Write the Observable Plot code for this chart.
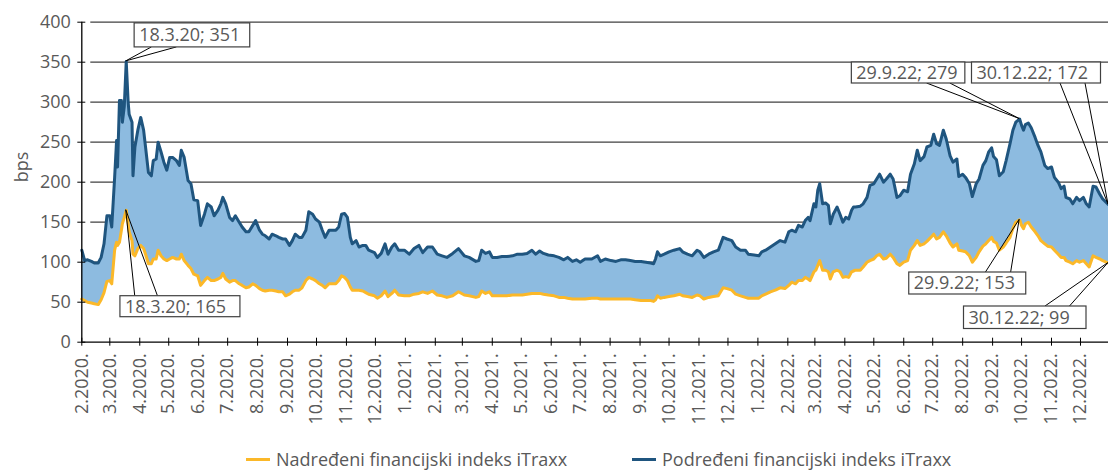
<!DOCTYPE html>
<html>
<head>
<meta charset="utf-8">
<script src="https://cdn.jsdelivr.net/npm/d3@7"></script>
<script src="https://cdn.jsdelivr.net/npm/@observablehq/plot@0.6"></script>
<style>
  html, body { margin: 0; padding: 0; background: #fff; }
  body { width: 1108px; height: 471px; position: relative; overflow: hidden; font-family: "Open Sans", sans-serif; }
  #legend { position: absolute; left: 0; top: 448px; width: 1108px; height: 22px; font-size: 18px; color: #595959; }
  .item { position: absolute; top: 0; display: flex; align-items: center; white-space: nowrap; line-height: 22px; height: 22px; }
  .sw { width: 24px; height: 3px; margin-right: 6px; }
</style>
</head>
<body>
<div id="chart"></div>
<div id="legend"></div>
<script>
// ---- data ----
const dates = ["2020-02-01","2020-02-04","2020-02-07","2020-02-11","2020-02-14","2020-02-18","2020-02-21","2020-02-24","2020-02-27","2020-03-01","2020-03-03","2020-03-06","2020-03-08","2020-03-09","2020-03-11","2020-03-13","2020-03-14","2020-03-16","2020-03-18","2020-03-20","2020-03-21","2020-03-24","2020-03-25","2020-03-27","2020-03-30","2020-04-02","2020-04-05","2020-04-07","2020-04-10","2020-04-13","2020-04-15","2020-04-18","2020-04-20","2020-04-23","2020-04-26","2020-04-29","2020-05-02","2020-05-05","2020-05-09","2020-05-12","2020-05-14","2020-05-17","2020-05-21","2020-05-24","2020-05-27","2020-05-31","2020-06-03","2020-06-07","2020-06-10","2020-06-14","2020-06-17","2020-06-21","2020-06-24","2020-06-26","2020-06-29","2020-07-03","2020-07-06","2020-07-09","2020-07-13","2020-07-16","2020-07-20","2020-07-23","2020-07-27","2020-07-30","2020-08-03","2020-08-06","2020-08-09","2020-08-13","2020-08-16","2020-08-20","2020-08-23","2020-08-27","2020-08-30","2020-09-03","2020-09-06","2020-09-09","2020-09-13","2020-09-16","2020-09-20","2020-09-23","2020-09-27","2020-09-30","2020-10-04","2020-10-07","2020-10-10","2020-10-14","2020-10-17","2020-10-21","2020-10-24","2020-10-27","2020-10-30","2020-11-02","2020-11-05","2020-11-07","2020-11-11","2020-11-14","2020-11-18","2020-11-21","2020-11-24","2020-11-30","2020-12-03","2020-12-07","2020-12-11","2020-12-14","2020-12-18","2020-12-21","2020-12-25","2020-12-31","2021-01-05","2021-01-10","2021-01-15","2021-01-19","2021-01-24","2021-01-29","2021-02-03","2021-02-08","2021-02-13","2021-02-19","2021-02-25","2021-03-03","2021-03-08","2021-03-15","2021-03-18","2021-03-21","2021-03-25","2021-03-29","2021-04-01","2021-04-06","2021-04-11","2021-04-16","2021-04-22","2021-04-27","2021-05-02","2021-05-07","2021-05-12","2021-05-16","2021-05-20","2021-05-24","2021-05-29","2021-06-04","2021-06-09","2021-06-14","2021-06-18","2021-06-23","2021-06-27","2021-07-01","2021-07-06","2021-07-13","2021-07-19","2021-07-22","2021-07-27","2021-08-02","2021-08-07","2021-08-12","2021-08-17","2021-08-22","2021-08-27","2021-09-02","2021-09-07","2021-09-12","2021-09-15","2021-09-17","2021-09-19","2021-09-22","2021-09-26","2021-10-01","2021-10-06","2021-10-12","2021-10-15","2021-10-20","2021-10-25","2021-10-30","2021-11-02","2021-11-06","2021-11-11","2021-11-16","2021-11-21","2021-11-26","2021-11-30","2021-12-05","2021-12-09","2021-12-14","2021-12-19","2021-12-22","2021-12-28","2022-01-02","2022-01-05","2022-01-09","2022-01-14","2022-01-19","2022-01-24","2022-01-29","2022-02-02","2022-02-05","2022-02-09","2022-02-12","2022-02-16","2022-02-19","2022-02-22","2022-02-24","2022-02-28","2022-03-02","2022-03-04","2022-03-06","2022-03-09","2022-03-12","2022-03-15","2022-03-17","2022-03-20","2022-03-24","2022-03-27","2022-03-30","2022-04-02","2022-04-05","2022-04-08","2022-04-10","2022-04-12","2022-04-17","2022-04-20","2022-04-24","2022-04-27","2022-05-01","2022-05-04","2022-05-07","2022-05-11","2022-05-14","2022-05-18","2022-05-21","2022-05-25","2022-05-28","2022-06-01","2022-06-05","2022-06-08","2022-06-12","2022-06-15","2022-06-18","2022-06-22","2022-06-25","2022-06-29","2022-07-02","2022-07-05","2022-07-08","2022-07-12","2022-07-15","2022-07-19","2022-07-22","2022-07-26","2022-07-28","2022-08-01","2022-08-04","2022-08-08","2022-08-11","2022-08-15","2022-08-18","2022-08-22","2022-08-25","2022-08-28","2022-08-31","2022-09-02","2022-09-05","2022-09-08","2022-09-12","2022-09-15","2022-09-19","2022-09-22","2022-09-25","2022-09-29","2022-10-01","2022-10-03","2022-10-05","2022-10-08","2022-10-11","2022-10-15","2022-10-18","2022-10-21","2022-10-25","2022-10-28","2022-11-01","2022-11-04","2022-11-08","2022-11-11","2022-11-14","2022-11-16","2022-11-20","2022-11-23","2022-11-27","2022-11-30","2022-12-04","2022-12-07","2022-12-10","2022-12-14","2022-12-17","2022-12-21","2022-12-24","2022-12-30"];

// Podređeni financijski indeks iTraxx (subordinated, bps)
const subordinated = [115,102,103,101,99,99,106,123,158,158,144,206,252,219,302,302,275,295,351,300,285,275,208,244,265,281,265,244,212,208,227,229,250,238,225,215,231,231,227,221,240,231,202,198,178,177,146,160,173,169,158,165,173,181,173,156,152,158,150,144,138,138,146,152,140,135,133,129,135,133,131,129,129,121,127,135,131,131,140,163,160,154,150,140,131,140,140,140,144,160,161,156,131,123,127,119,121,121,115,112,106,111,123,110,119,123,115,115,110,117,121,112,119,119,110,108,106,111,117,108,106,101,102,115,111,113,106,106,107,107,108,110,110,111,115,110,114,111,109,108,106,103,106,101,103,100,104,104,108,101,104,102,101,103,103,102,101,101,100,99,98,104,113,108,110,113,115,117,113,110,108,115,113,106,110,113,115,131,129,127,119,115,115,110,109,108,113,115,119,123,127,125,138,140,138,146,144,152,156,152,173,169,190,198,173,174,171,148,160,169,160,150,156,154,165,169,169,170,173,181,196,198,204,210,200,204,210,204,181,183,190,188,210,223,240,227,232,244,246,260,248,246,265,254,233,225,229,207,210,206,198,182,198,204,221,227,238,243,232,228,208,213,227,248,265,275,279,271,265,272,274,268,256,246,238,221,217,219,206,200,192,195,181,179,173,181,177,181,173,169,195,194,185,179,172];

// Nadređeni financijski indeks iTraxx (senior, bps)
const senior = [54,52,50,49,48,47,53,62,76,77,73,115,125,121,125,140,148,156,165,148,138,127,110,108,117,121,117,110,98,98,104,104,115,108,104,102,104,106,104,104,110,102,96,92,85,83,71,77,81,77,77,79,81,86,79,75,77,77,73,71,68,69,73,71,67,65,64,65,65,64,63,63,58,60,63,65,65,68,77,81,79,77,73,71,68,73,73,73,77,83,81,77,69,65,65,65,64,62,60,58,55,58,64,57,61,65,59,58,58,60,61,63,61,64,59,58,56,58,63,59,58,56,57,64,61,63,58,58,58,58,59,59,59,60,61,61,61,60,59,58,56,56,55,54,54,54,54,55,55,54,54,54,54,54,54,54,53,52,52,52,51,53,58,55,56,57,58,60,58,57,56,59,58,54,56,57,58,68,67,65,60,58,56,55,55,55,58,60,63,65,68,67,71,75,73,77,77,81,79,77,88,90,96,102,90,90,88,79,88,90,88,81,82,81,88,89,90,90,94,100,102,104,108,110,104,105,110,106,98,96,100,102,115,121,127,121,123,126,131,135,129,131,138,133,124,119,123,115,114,113,108,100,106,113,120,123,127,131,126,124,115,119,124,131,142,150,153,146,142,148,150,144,138,133,127,123,120,119,115,110,106,106,102,100,98,102,100,102,98,94,108,106,104,102,99];

const yTicks = [0, 50, 100, 150, 200, 250, 300, 350, 400];
const monthTicks = ["2020-02-01","2020-03-01","2020-04-01","2020-05-01","2020-06-01","2020-07-01","2020-08-01","2020-09-01","2020-10-01","2020-11-01","2020-12-01","2021-01-01","2021-02-01","2021-03-01","2021-04-01","2021-05-01","2021-06-01","2021-07-01","2021-08-01","2021-09-01","2021-10-01","2021-11-01","2021-12-01","2022-01-01","2022-02-01","2022-03-01","2022-04-01","2022-05-01","2022-06-01","2022-07-01","2022-08-01","2022-09-01","2022-10-01","2022-11-01","2022-12-01"];

const seriesNames = ["Nadređeni financijski indeks iTraxx", "Podređeni financijski indeks iTraxx"];
const yLabel = "bps";

// annotated points
const calloutDates  = ["2020-03-18", "2020-03-18", "2022-09-29", "2022-12-30", "2022-09-29", "2022-12-30"];
const calloutValues = [351, 165, 279, 172, 153, 99];
const calloutLabels = ["18.3.20; 351", "18.3.20; 165", "29.9.22; 279", "30.12.22; 172", "29.9.22; 153", "30.12.22; 99"];

// ---- layout / style (not data) ----
const COL_SUB = "#1f557f", COL_SEN = "#fbb829", COL_FILL = "#8dbbe0", COL_TEXT = "#595959", COL_GRID = "#404040";
// box offsets relative to the annotated point (px): left, top, width, height, leader x-offsets
const calloutLayout = [
  {l: 8.4,    t: -38,    w: 115.6, h: 24,   k: [25.7, 50.7]},
  {l: -5.8,   t: 86,     w: 120,   h: 21,   k: [9, 31.7]},
  {l: -167.8, t: -56.5,  w: 113.5, h: 21,   k: [-92.6, -69.3]},
  {l: -136.5, t: -142.1, w: 129,   h: 21,   k: [-48, -23]},
  {l: -110.4, t: 52.7,   w: 117,   h: 22,   k: [-33.7, -8.5]},
  {l: -144.5, t: 43.5,   w: 122.5, h: 22.5, k: [-63, -38.5]}
];

const parse = d3.utcParse("%Y-%m-%d");
const rows = dates.map((d, i) => ({date: parse(d), sen: senior[i], sub: subordinated[i]}));
const ticksX = monthTicks.map(parse);
const xDomain = [parse(dates[0]), parse(dates[dates.length - 1])];
const fmt = d => `${d.getUTCMonth() + 1}.${d.getUTCFullYear()}.`;

const chart = Plot.plot({
  width: 1108,
  height: 440,
  marginLeft: 81.3,
  marginRight: 0,
  marginTop: 21.7,
  marginBottom: 98.3,
  style: {fontFamily: "'Open Sans', sans-serif", fontSize: "18px", color: COL_TEXT, background: "white", overflow: "visible"},
  x: {type: "utc", domain: xDomain, label: null},
  y: {domain: [0, 400], label: null},
  marks: [
    Plot.ruleY(yTicks.filter(t => t > 0), {stroke: COL_GRID, strokeWidth: 1.3, insetLeft: 9}),
    Plot.areaY(rows, {x: "date", y1: 0, y2: "sen", fill: "white"}),
    Plot.areaY(rows, {x: "date", y1: "sen", y2: "sub", fill: COL_FILL}),
    Plot.lineY(rows, {x: "date", y: "sen", stroke: COL_SEN, strokeWidth: 3, strokeLinejoin: "round"}),
    Plot.lineY(rows, {x: "date", y: "sub", stroke: COL_SUB, strokeWidth: 3, strokeLinejoin: "round"}),
    Plot.ruleY([0], {stroke: "black", strokeWidth: 1.3}),
    Plot.ruleX([xDomain[0]], {y1: 0, y2: 400, stroke: "black", strokeWidth: 1.3}),
    Plot.axisY({ticks: yTicks, tickSize: 8, dx: 4, tickFormat: () => "", stroke: "black", label: null}),
    Plot.axisY({ticks: yTicks, tickSize: 0, tickPadding: 11, fill: COL_TEXT, label: null}),
    Plot.axisX({ticks: ticksX, tickSize: 8, dy: -4, tickFormat: () => "", stroke: "black", label: null}),
    Plot.axisX({ticks: ticksX, tickSize: 0, tickPadding: 11, tickRotate: -90, tickFormat: fmt, fill: COL_TEXT, label: null}),
    Plot.text([yLabel], {text: d => d, frameAnchor: "left", rotate: -90, dx: -60, fill: COL_TEXT})
  ]
});
document.getElementById("chart").appendChild(chart);

// callouts, positioned through the plot's own scales
const sx = chart.scale("x"), sy = chart.scale("y");
const svg = d3.select(chart);
const g = svg.append("g").attr("font-family", "'Open Sans', sans-serif").attr("font-size", 18).attr("text-anchor", "start");
calloutLabels.forEach((label, i) => {
  const px = sx.apply(parse(calloutDates[i])), py = sy.apply(calloutValues[i]);
  const L = calloutLayout[i];
  const bx = px + L.l, by = py + L.t;
  const edge = L.t < 0 ? by + L.h : by;
  L.k.forEach(k => {
    g.append("line").attr("x1", px).attr("y1", py).attr("x2", px + k).attr("y2", edge)
      .attr("stroke", "#000").attr("stroke-width", 1);
  });
  g.append("rect").attr("x", bx).attr("y", by).attr("width", L.w).attr("height", L.h)
    .attr("fill", "white").attr("stroke", "#404040").attr("stroke-width", 1.2);
  g.append("text").attr("x", bx + 5).attr("y", by + L.h / 2).attr("dy", "0.35em")
    .attr("text-anchor", "start").attr("fill", COL_TEXT).text(label);
});

// legend
const legend = d3.select("#legend");
const legendItems = [{name: seriesNames[0], color: COL_SEN, left: 246}, {name: seriesNames[1], color: COL_SUB, left: 632}];
legendItems.forEach(it => {
  const div = legend.append("div").attr("class", "item").style("left", it.left + "px");
  div.append("div").attr("class", "sw").style("background", it.color);
  div.append("span").text(it.name);
});
</script>
</body>
</html>
